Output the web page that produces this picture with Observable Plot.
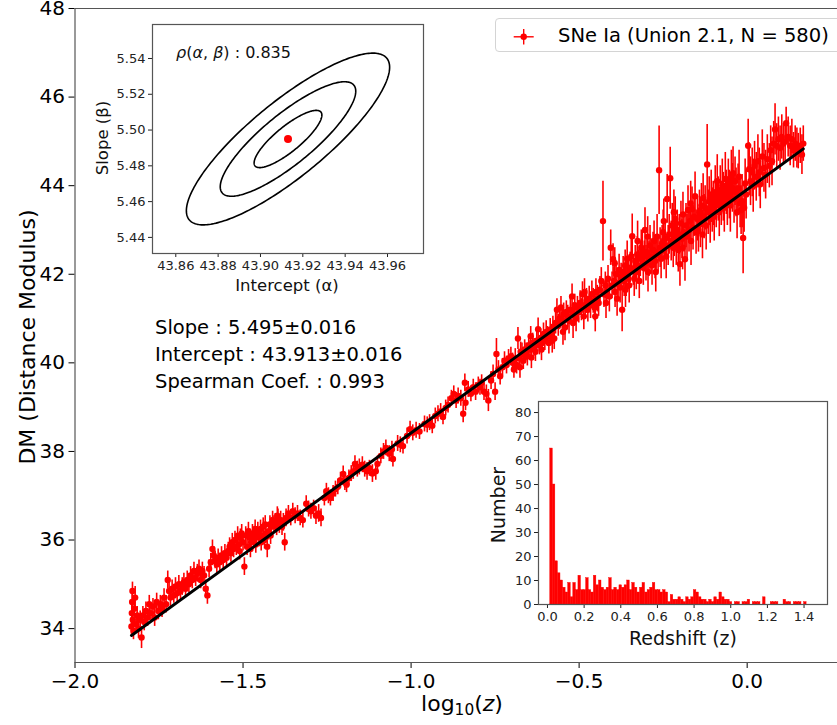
<!DOCTYPE html>
<html>
<head>
<meta charset="utf-8">
<script src="https://cdn.jsdelivr.net/npm/d3@7"></script>
<script src="https://cdn.jsdelivr.net/npm/@observablehq/plot@0.6"></script>
<style>
  body { margin: 0; background: #fff; font-family: "DejaVu Sans", sans-serif; }
  #wrap { position: relative; width: 837px; height: 725px; overflow: hidden; background: #fff; }
  .abs { position: absolute; white-space: nowrap; color: #000; }
  .ctr { transform: translate(-50%, -50%); }
  .rot { transform: translate(-50%, -50%) rotate(-90deg); }
  sub { font-size: 0.7em; vertical-align: -0.25em; }
</style>
</head>
<body>
<div id="wrap"></div>
<script>
// ---------------- Data ----------------
// Supernova points: [log10(z), distance modulus, DM error]
const snLow = [
  [-1.832,34.05,0.18],[-1.831,34.35,0.2],[-1.830,34.6,0.22],[-1.829,34.85,0.2],[-1.828,34.2,0.18],[-1.826,33.95,0.2],
  [-1.824,34.45,0.2],[-1.821,34.7,0.25],[-1.818,34.1,0.2],[-1.815,34.3,0.2],[-1.811,34.0,0.22],[-1.806,34.2,0.2],
  [-1.802,33.8,0.25],[-1.798,34.3,0.2],[-1.794,34.15,0.2],[-1.789,34.4,0.2],[-1.784,34.25,0.2],[-1.779,34.55,0.2],
  [-1.774,34.35,0.2],[-1.768,34.5,0.18],[-1.763,34.25,0.2],[-1.757,34.6,0.2],[-1.752,34.4,0.2],[-1.746,34.55,0.2],
  [-1.741,34.45,0.2],[-1.735,34.7,0.2],[-1.729,34.55,0.2],[-1.724,35.1,0.2],[-1.720,34.85,0.2],[-1.716,34.7,0.2],
  [-1.711,34.9,0.2],[-1.706,34.75,0.18],[-1.701,34.95,0.2],[-1.696,34.8,0.2],[-1.691,35.0,0.2],[-1.686,34.85,0.2],
  [-1.681,34.95,0.2],[-1.676,35.05,0.2],[-1.671,34.9,0.2],[-1.666,35.1,0.2],[-1.661,35.0,0.2],[-1.656,35.2,0.2],
  [-1.651,35.1,0.2],[-1.646,35.3,0.2],[-1.641,35.15,0.2],[-1.636,35.25,0.2],[-1.631,35.35,0.2],[-1.626,35.1,0.2],
  [-1.621,35.3,0.2],[-1.616,35.2,0.2],[-1.611,34.9,0.2],[-1.606,34.75,0.2],[-1.601,35.35,0.2],[-1.596,35.5,0.2],
  [-1.591,35.8,0.2],[-1.587,35.65,0.2],[-1.583,35.55,0.2],[-1.578,35.45,0.2],[-1.574,35.6,0.2],[-1.569,35.5,0.2],
  [-1.564,35.65,0.2],[-1.559,35.55,0.2],[-1.554,35.7,0.2],[-1.549,35.6,0.2],[-1.544,35.75,0.2],
  [-1.540,35.85,0.2],[-1.536,35.7,0.2],[-1.532,35.95,0.2],[-1.528,35.8,0.2],[-1.524,36.0,0.2],[-1.520,35.85,0.2],
  [-1.516,36.1,0.2],[-1.512,35.9,0.2],[-1.510,35.75,0.2],[-1.508,36.05,0.2],[-1.504,36.15,0.2],[-1.500,35.95,0.2],
  [-1.496,35.4,0.2],[-1.492,36.1,0.2],[-1.488,35.85,0.2],[-1.484,36.2,0.2],[-1.480,36.05,0.2],[-1.478,35.8,0.2],
  [-1.476,35.95,0.2],[-1.472,36.15,0.2],[-1.468,36.0,0.2],[-1.464,36.25,0.2],[-1.462,35.9,0.2],[-1.460,36.1,0.2],
  [-1.456,36.2,0.2],[-1.452,36.05,0.2],[-1.448,36.25,0.2],[-1.446,35.95,0.2],[-1.444,36.1,0.2],[-1.440,36.3,0.2],
  [-1.436,36.0,0.2],[-1.434,36.35,0.2],[-1.432,36.15,0.2],[-1.428,35.85,0.25],[-1.424,36.2,0.2],[-1.420,36.35,0.2],
  [-1.418,36.1,0.2],[-1.416,36.3,0.2],[-1.412,36.45,0.2],[-1.408,36.35,0.2],[-1.404,36.4,0.2],[-1.400,36.3,0.2],
  [-1.398,36.55,0.2],[-1.396,36.5,0.2],[-1.392,36.35,0.2],[-1.388,36.45,0.2],[-1.384,36.3,0.2],[-1.380,36.4,0.2],
  [-1.376,35.95,0.2],[-1.372,36.5,0.2],
  [-1.365,36.6,0.18],[-1.358,36.5,0.18],[-1.352,36.65,0.18],[-1.345,36.55,0.18],[-1.338,36.6,0.18],[-1.330,36.5,0.18],
  [-1.322,36.45,0.18],[-1.312,36.82,0.18],[-1.305,36.7,0.18],[-1.298,36.65,0.18],[-1.290,36.72,0.18],[-1.283,36.55,0.2],
  [-1.275,36.6,0.2],[-1.268,36.5,0.2],[-1.258,36.95,0.18],[-1.252,37.1,0.18],[-1.246,37.0,0.18],[-1.240,36.95,0.18],
  [-1.232,37.05,0.18],[-1.225,37.15,0.18],[-1.218,37.2,0.18],[-1.210,37.35,0.18],[-1.202,37.49,0.18],[-1.197,37.3,0.18],
  [-1.192,37.25,0.18],[-1.185,37.4,0.18],[-1.178,37.5,0.18],[-1.172,37.55,0.18],[-1.167,37.72,0.18],[-1.160,37.6,0.18],
  [-1.154,37.65,0.18],[-1.145,37.7,0.18],[-1.138,37.6,0.18],[-1.131,37.55,0.2],[-1.124,37.62,0.18],[-1.115,37.5,0.2],
  [-1.105,37.55,0.2],[-1.100,37.72,0.18],[-1.090,37.9,0.18],[-1.082,38.0,0.18],[-1.075,38.08,0.18],
  [-1.065,37.95,0.18],[-1.057,38.05,0.18],[-1.054,37.83,0.18],[-1.040,38.18,0.18],[-1.032,38.15,0.18],[-1.024,38.12,0.18],
  [-1.012,38.35,0.18]
];
const snMid = [
  [-1.003,38.5,0.18],[-0.995,38.42,0.18],[-0.985,38.48,0.18],[-0.975,38.45,0.18],[-0.960,38.62,0.18],[-0.952,38.6,0.18],
  [-0.945,38.65,0.18],[-0.937,38.58,0.18],[-0.928,38.8,0.18],[-0.920,38.85,0.18],[-0.912,38.9,0.18],[-0.905,38.78,0.18],
  [-0.897,38.98,0.18],[-0.890,39.05,0.18],[-0.880,39.2,0.18],[-0.873,39.3,0.18],[-0.866,39.15,0.18],[-0.860,39.25,0.18],
  [-0.852,39.2,0.18],[-0.845,38.85,0.2],[-0.840,39.55,0.2],[-0.838,39.1,0.18],[-0.830,39.4,0.18],[-0.822,39.3,0.18],
  [-0.815,39.45,0.18],[-0.808,39.35,0.2],[-0.800,39.5,0.18],[-0.795,39.45,0.18],[-0.790,39.55,0.18],[-0.783,39.35,0.2],
  [-0.776,39.3,0.2],[-0.770,39.15,0.25],[-0.762,39.6,0.2],[-0.756,39.75,0.2],[-0.750,39.35,0.2],[-0.746,40.2,0.35],
  [-0.740,39.85,0.2],[-0.735,39.7,0.2],[-0.728,39.9,0.2],[-0.722,40.05,0.2],[-0.716,39.95,0.2],[-0.710,40.1,0.2],
  [-0.703,40.15,0.2],
  [-0.698,40.0,0.22],[-0.694,39.85,0.2],[-0.690,40.1,0.22],[-0.686,39.95,0.2],[-0.682,40.55,0.25],[-0.678,40.1,0.2],
  [-0.676,39.9,0.25],[-0.674,40.25,0.22],[-0.670,40.2,0.25],[-0.666,40.05,0.2],[-0.662,40.3,0.22],[-0.658,40.25,0.2],
  [-0.654,40.15,0.22],[-0.650,40.4,0.22],[-0.646,40.3,0.2],[-0.644,40.6,0.22],[-0.642,40.12,0.25],[-0.638,40.45,0.22],
  [-0.634,40.35,0.2],[-0.630,40.25,0.22],[-0.626,40.5,0.22],[-0.622,40.76,0.25],[-0.618,40.4,0.22],[-0.614,40.55,0.22],
  [-0.612,40.3,0.25],[-0.610,40.45,0.22],[-0.606,40.65,0.25],[-0.602,40.5,0.22],[-0.598,40.7,0.25],[-0.594,40.6,0.22],
  [-0.590,40.45,0.25],[-0.586,40.75,0.25],[-0.582,40.65,0.22],[-0.580,40.5,0.28],[-0.578,40.8,0.25],[-0.574,40.55,0.25],
  [-0.570,40.9,0.25],[-0.566,41.2,0.25],[-0.562,40.85,0.25],[-0.558,41.0,0.25],[-0.554,41.25,0.25],[-0.550,40.95,0.25],
  [-0.548,40.7,0.3],[-0.546,41.1,0.25],[-0.542,40.8,0.3],[-0.538,41.15,0.25],[-0.534,41.05,0.25],[-0.530,40.95,0.3],
  [-0.526,41.2,0.25],[-0.521,41.5,0.28],[-0.518,40.9,0.35],[-0.517,41.1,0.25],[-0.513,41.3,0.25],[-0.509,41.0,0.3],
  [-0.505,41.25,0.25],[-0.501,41.15,0.25],[-0.497,41.35,0.28],[-0.493,41.2,0.25],[-0.490,41.55,0.28],[-0.486,41.05,0.3],
  [-0.484,41.6,0.3],[-0.482,41.3,0.25],[-0.478,41.4,0.28],[-0.474,41.2,0.28],[-0.470,41.45,0.28],[-0.466,41.3,0.3],
  [-0.462,41.55,0.3],[-0.458,41.4,0.28],[-0.454,41.25,0.3],[-0.452,41.05,0.35],[-0.450,41.6,0.3],[-0.446,41.45,0.3],
  [-0.442,41.35,0.3],[-0.438,41.65,0.3],[-0.434,41.85,0.3],[-0.429,43.2,0.9],[-0.426,41.55,0.3],[-0.422,41.75,0.3],
  [-0.420,41.35,0.35],[-0.418,41.6,0.3],[-0.414,41.9,0.3],[-0.410,41.5,0.35],[-0.406,42.6,0.4],[-0.402,41.75,0.3]
];
const snHigh = [
  [-0.399,42.34,0.35],[-0.396,41.85,0.3],[-0.394,42.25,0.35],[-0.393,41.6,0.35],[-0.390,42.0,0.3],[-0.387,41.45,0.4],
  [-0.384,41.8,0.3],[-0.381,42.1,0.35],[-0.378,41.7,0.35],[-0.375,41.95,0.3],[-0.372,41.2,0.5],[-0.369,42.05,0.35],
  [-0.366,41.85,0.35],[-0.363,42.2,0.35],[-0.362,41.65,0.4],[-0.360,41.9,0.4],[-0.357,42.35,0.4],[-0.354,42.0,0.35],
  [-0.351,41.75,0.4],[-0.348,42.15,0.35],[-0.345,42.4,0.4],[-0.342,42.86,0.5],[-0.339,42.1,0.35],[-0.336,41.9,0.4],
  [-0.333,42.3,0.35],[-0.330,42.05,0.4],[-0.327,42.45,0.4],[-0.326,42.75,0.45],[-0.324,42.2,0.35],[-0.321,41.85,0.4],
  [-0.318,42.35,0.4],[-0.315,42.6,0.4],[-0.312,42.52,0.45],[-0.309,42.15,0.4],[-0.306,42.4,0.35],[-0.304,43.0,0.5],
  [-0.301,42.25,0.4],[-0.298,42.5,0.4],[-0.296,42.85,0.45],[-0.295,42.05,0.45],[-0.292,42.35,0.4],[-0.289,42.65,0.45],
  [-0.286,42.4,0.4],[-0.283,42.2,0.45],[-0.280,42.55,0.4],[-0.277,42.75,0.45],[-0.274,42.3,0.4],[-0.272,42.05,0.45],
  [-0.271,42.5,0.4],[-0.268,42.85,0.5],[-0.265,42.45,0.4],[-0.262,44.35,1.0],[-0.259,42.6,0.45],[-0.256,42.35,0.45],
  [-0.253,42.7,0.4],[-0.250,42.95,0.5],[-0.248,43.2,0.5],[-0.247,42.55,0.45],[-0.244,42.8,0.4],[-0.241,42.4,0.5],
  [-0.238,43.7,0.55],[-0.235,42.65,0.45],[-0.232,42.9,0.45],[-0.229,44.17,0.7],[-0.226,42.75,0.45],[-0.223,43.1,0.5],
  [-0.220,42.6,0.45],[-0.218,43.4,0.5],[-0.217,42.85,0.45],[-0.214,43.25,0.5],[-0.211,42.7,0.5],[-0.208,43.0,0.45],
  [-0.205,42.55,0.5],[-0.202,42.9,0.45],[-0.200,42.23,0.5],[-0.197,43.15,0.5],[-0.194,42.8,0.45],[-0.192,42.6,0.5],
  [-0.191,43.35,0.5],[-0.188,42.95,0.45],[-0.185,42.34,0.5],[-0.182,43.1,0.5],[-0.179,42.85,0.5],[-0.176,43.45,0.55],
  [-0.173,43.0,0.5],[-0.170,43.2,0.45],[-0.168,43.6,0.5],[-0.167,42.75,0.55],[-0.164,43.47,0.5],[-0.161,43.05,0.5],
  [-0.158,43.3,0.45],[-0.155,43.76,0.55],[-0.152,42.95,0.5],
  [-0.148,43.25,0.5],[-0.145,43.0,0.5],[-0.142,43.4,0.5],[-0.139,43.15,0.55],[-0.136,43.55,0.5],[-0.133,42.9,0.55],
  [-0.131,43.72,0.55],[-0.128,43.3,0.5],[-0.125,43.5,0.5],[-0.122,43.1,0.55],[-0.119,44.48,0.9],[-0.116,43.4,0.5],
  [-0.113,43.65,0.55],[-0.110,43.25,0.55],[-0.107,43.8,0.55],[-0.104,43.45,0.5],[-0.101,43.6,0.5],[-0.098,43.3,0.55],
  [-0.095,43.85,0.6],[-0.092,43.55,0.5],[-0.089,44.1,0.6],[-0.086,43.7,0.5],[-0.083,43.4,0.55],[-0.080,43.9,0.55],
  [-0.077,43.6,0.5],[-0.074,44.0,0.6],[-0.071,43.75,0.55],[-0.068,43.5,0.55],[-0.065,44.15,0.6],[-0.062,43.85,0.5],
  [-0.059,43.65,0.55],[-0.056,44.05,0.55],[-0.053,43.8,0.55],[-0.050,43.55,0.6],[-0.047,44.2,0.6],[-0.044,43.95,0.55],
  [-0.042,44.28,0.6],[-0.039,43.7,0.55],[-0.036,44.1,0.55],[-0.033,43.85,0.55],[-0.030,43.4,0.6],[-0.027,43.94,0.55],
  [-0.024,44.2,0.6],[-0.021,43.6,0.55],[-0.018,43.45,0.55],[-0.015,43.65,0.6],[-0.012,42.82,0.81],[-0.009,43.5,0.55],
  [-0.006,44.05,0.55],[-0.003,43.8,0.55],
  [0.003,44.9,0.6],[0.006,44.37,0.6],[0.010,44.1,0.55],[0.015,44.3,0.55],[0.018,44.0,0.6],[0.022,44.45,0.55],
  [0.027,44.2,0.55],[0.032,44.55,0.6],[0.036,44.3,0.55],[0.039,44.03,0.55],[0.045,44.66,0.6],[0.050,44.4,0.55],
  [0.055,44.25,0.55],[0.060,44.6,0.55],[0.066,44.45,0.5],[0.070,44.8,0.55],[0.074,44.55,0.55],[0.079,44.95,0.5],
  [0.083,45.27,0.58],[0.088,44.9,0.5],[0.093,45.05,0.5],[0.098,44.85,0.5],[0.103,45.1,0.5],[0.108,44.95,0.45],
  [0.113,45.0,0.45],[0.116,45.41,0.36],[0.122,45.1,0.45],[0.128,44.9,0.45],[0.133,45.05,0.45],[0.138,44.8,0.4],
  [0.143,44.95,0.4],[0.148,44.85,0.45],[0.152,44.78,0.4],[0.158,44.9,0.4],[0.163,44.7,0.45],[0.167,44.95,0.4]
];

// Fit results (shown in the annotations)
const slope = 5.495, slopeErr = 0.016;
const intercept = 43.913, interceptErr = 0.016;
const rhoAB = 0.835;
const spearman = 0.993;
const sigmaLevels = [1, 2, 3];

// Redshift histogram: counts in 100 equal bins between these redshifts
const histRange = [0.015, 1.414];
const histCounts = [
  65,50,18,13,10,7,5,9,3,9, 6,12,6,6,11,6,5,12,8,10,
  7,6,7,11,6,7,6,8,7,8, 10,6,9,7,5,7,9,5,6,7,
  9,6,6,5,6,5,1,4,2,2, 3,2,1,3,2,3,6,5,3,2,
  2,1,2,1,3,2,5,3,2,2, 1,0,1,1,0,1,1,2,0,1,
  1,1,0,3,0,0,1,1,1,0, 0,2,1,1,0,1,1,1,0,1
];

// Axis ticks and extents
const mainXTicks = [-2.0, -1.5, -1.0, -0.5, 0.0];
const mainYTicks = [34, 36, 38, 40, 42, 44, 46, 48];
const mainXDomain = [-2.0, 0.2688];
const mainYDomain = [33.235, 48];
const ellXTicks = [43.86, 43.88, 43.90, 43.92, 43.94, 43.96];
const ellYTicks = [5.44, 5.46, 5.48, 5.50, 5.52, 5.54];
const ellXDomain = [43.849, 43.977];
const ellYDomain = [5.431, 5.559];
const histXTicks = [0, 0.2, 0.4, 0.6, 0.8, 1.0, 1.2, 1.4];
const histYTicks = [0, 10, 20, 30, 40, 50, 60, 70, 80];
const histXDomain = [-0.049, 1.528];
const histYDomain = [0, 84.6];

// ---------------- Build ----------------
const sn = [...snLow, ...snMid, ...snHigh].map(([x, dm, e]) => ({x, dm, e}));
const xExt = d3.extent(sn, d => d.x);
const fitLine = xExt.map(x => ({x, y: intercept + slope * x}));

const minus = s => s.replace("-", "\u2212");
const wrap = document.getElementById("wrap");
const spine = "#555";

const main = Plot.plot({
  width: 837, height: 725,
  marginLeft: 74.5, marginRight: 0, marginTop: 8, marginBottom: 63,
  style: {fontFamily: "DejaVu Sans, sans-serif", fontSize: "20px", color: "#000", background: "transparent", overflow: "visible"},
  x: {domain: mainXDomain, ticks: mainXTicks, tickFormat: d => minus(d.toFixed(1)), label: null, tickSize: 6, tickPadding: 5},
  y: {domain: mainYDomain, ticks: mainYTicks, tickFormat: d => String(d), label: null, tickSize: 6, tickPadding: 4},
  marks: [
    Plot.ruleX(sn, {x: "x", y1: d => d.dm - d.e, y2: d => d.dm + d.e, stroke: "#ff0000", strokeWidth: 1.6}),
    Plot.dot(sn, {x: "x", y: "dm", r: 3.2, fill: "#ff0000", stroke: "none"}),
    Plot.line(fitLine, {x: "x", y: "y", stroke: "#000", strokeWidth: 3}),
    Plot.ruleX([mainXDomain[0]], {stroke: spine, strokeWidth: 1.2}),
    Plot.ruleY([mainYDomain[0]], {stroke: spine, strokeWidth: 1.2}),
    Plot.ruleY([mainYDomain[1]], {stroke: spine, strokeWidth: 1.2})
  ]
});
main.style.position = "absolute"; main.style.left = "0px"; main.style.top = "0px";
wrap.appendChild(main);

// Inset 1: confidence ellipses (1, 2, 3 sigma) of intercept and slope
const ellipse = sigmaLevels.flatMap(k => d3.range(0, 241).map(i => {
  const t = 2 * Math.PI * i / 240;
  return {k, a: intercept + k * interceptErr * Math.cos(t),
          b: slope + k * slopeErr * (rhoAB * Math.cos(t) + Math.sqrt(1 - rhoAB * rhoAB) * Math.sin(t))};
}));
const e1 = {left: 152, top: 24, w: 271, h: 229, ml: 62, mr: 3, mt: 3, mb: 40};
const inset1 = Plot.plot({
  width: e1.ml + e1.w + e1.mr, height: e1.mt + e1.h + e1.mb,
  marginLeft: e1.ml, marginRight: e1.mr, marginTop: e1.mt, marginBottom: e1.mb,
  style: {fontFamily: "DejaVu Sans, sans-serif", fontSize: "13px", color: "#222", background: "transparent", overflow: "visible"},
  x: {domain: ellXDomain, ticks: ellXTicks, tickFormat: d => d.toFixed(2), label: null, tickSize: 4, tickPadding: 3},
  y: {domain: ellYDomain, ticks: ellYTicks, tickFormat: d => d.toFixed(2), label: null, tickSize: 4, tickPadding: 3},
  marks: [
    Plot.frame({fill: "#fff", stroke: "none"}),
    Plot.line(ellipse, {x: "a", y: "b", z: "k", stroke: "#000", strokeWidth: 1.6, curve: "linear"}),
    Plot.dot([{a: intercept, b: slope}], {x: "a", y: "b", r: 4, fill: "#ff0000", stroke: "none"}),
    Plot.frame({stroke: "#555", strokeWidth: 1.2})
  ]
});
inset1.style.position = "absolute";
inset1.style.left = (e1.left - e1.ml) + "px"; inset1.style.top = (e1.top - e1.mt) + "px";
wrap.appendChild(inset1);

// Inset 2: redshift histogram
const binW = (histRange[1] - histRange[0]) / histCounts.length;
const hist = histCounts.map((c, i) => ({x1: histRange[0] + i * binW, x2: histRange[0] + (i + 1) * binW, c}));
const h2 = {left: 538, top: 401, w: 289, h: 203, ml: 44, mr: 3, mt: 3, mb: 30};
const inset2 = Plot.plot({
  width: h2.ml + h2.w + h2.mr, height: h2.mt + h2.h + h2.mb,
  marginLeft: h2.ml, marginRight: h2.mr, marginTop: h2.mt, marginBottom: h2.mb,
  style: {fontFamily: "DejaVu Sans, sans-serif", fontSize: "13px", color: "#222", background: "transparent", overflow: "visible"},
  x: {domain: histXDomain, ticks: histXTicks, tickFormat: d => d.toFixed(1), label: null, tickSize: 4, tickPadding: 3},
  y: {domain: histYDomain, ticks: histYTicks, tickFormat: d => String(d), label: null, tickSize: 4, tickPadding: 3},
  marks: [
    Plot.frame({fill: "#fff", stroke: "none"}),
    Plot.rectY(hist.filter(d => d.c > 0), {x1: "x1", x2: "x2", y: "c", fill: "#ff0000", stroke: "#ff0000", strokeWidth: 0.4, inset: 0}),
    Plot.frame({stroke: "#555", strokeWidth: 1.2})
  ]
});
inset2.style.position = "absolute";
inset2.style.left = (h2.left - h2.ml) + "px"; inset2.style.top = (h2.top - h2.mt) + "px";
wrap.appendChild(inset2);

// ---------------- Text overlays ----------------
function addDiv(html, css, cls) {
  const d = document.createElement("div");
  d.className = "abs " + (cls || "");
  d.innerHTML = html;
  Object.assign(d.style, css);
  wrap.appendChild(d);
  return d;
}
addDiv("DM (Distance Modulus)", {left: "27px", top: "337px", fontSize: "22px"}, "rot");
addDiv("log<sub>10</sub>(<i>z</i>)", {left: "462px", top: "705px", fontSize: "22px"}, "ctr");
addDiv(
  `Slope : ${slope.toFixed(3)}±${slopeErr.toFixed(3)}<br>` +
  `Intercept : ${intercept.toFixed(3)}±${interceptErr.toFixed(3)}<br>` +
  `Spearman Coef. : ${spearman.toFixed(3)}`,
  {left: "155px", top: "314px", fontSize: "19.5px", lineHeight: "27px"});

// inset 1 labels
addDiv("Slope (β)", {left: "102px", top: "138px", fontSize: "16.5px", color: "#111"}, "rot");
addDiv("Intercept (α)", {left: "287px", top: "285px", fontSize: "16.5px", color: "#111"}, "ctr");
addDiv(`<i>ρ</i>(<i>α</i>, <i>β</i>) : ${rhoAB.toFixed(3)}`, {left: "176px", top: "43px", fontSize: "16px", lineHeight: "20px", color: "#111"});

// inset 2 labels
addDiv("Number", {left: "498px", top: "505px", fontSize: "19px", color: "#111"}, "rot");
addDiv("Redshift (z)", {left: "683px", top: "638px", fontSize: "19px", color: "#111"}, "ctr");

// legend
addDiv(
  `<svg width="40" height="34" style="position:absolute;left:0;top:0">
     <line x1="17.7" x2="37.7" y1="17.8" y2="17.8" stroke="#ff0000" stroke-width="1.4"/>
     <line x1="27.7" x2="27.7" y1="10" y2="25.5" stroke="#ff0000" stroke-width="1.4"/>
     <circle cx="27.7" cy="17.8" r="3.2" fill="#ff0000"/>
   </svg>
   <span style="position:absolute;left:62px;top:50%;transform:translateY(-50%);font-size:19.5px">SNe Ia (Union 2.1, N = 580)</span>`,
  {left: "495px", top: "18px", width: "400px", height: "34px", border: "1px solid #d4d4d4", borderRadius: "4px", background: "#fff", boxSizing: "border-box"});
</script>
</body>
</html>
